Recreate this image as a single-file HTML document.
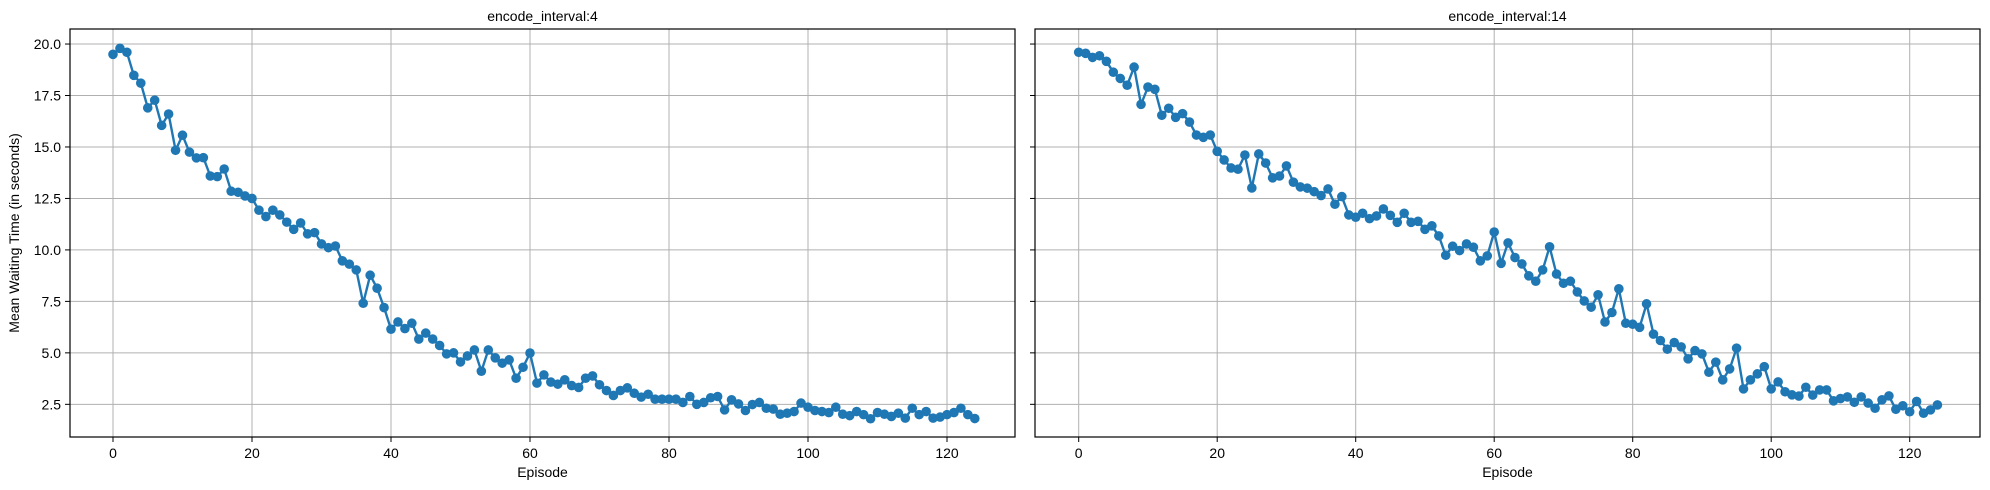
<!DOCTYPE html>
<html><head><meta charset="utf-8"><style>
body{margin:0;background:#fff;}
svg{display:block;font-family:"Liberation Sans","DejaVu Sans",sans-serif;}
</style></head><body>
<svg id="chart" width="1990" height="490" viewBox="0 0 1990 490"></svg>
<script>
const episodes = Array.from({length:125},(_,i)=>i);
const seriesInterval4 = [19.5,19.79,19.6,18.48,18.1,16.9,17.27,16.05,16.6,14.84,15.57,14.75,14.47,14.48,13.59,13.56,13.93,12.85,12.8,12.62,12.5,11.93,11.62,11.93,11.7,11.35,11.0,11.31,10.78,10.84,10.29,10.11,10.19,9.47,9.31,9.03,7.41,8.77,8.14,7.2,6.15,6.5,6.18,6.44,5.67,5.96,5.67,5.36,4.95,5.0,4.56,4.85,5.14,4.11,5.14,4.76,4.5,4.66,3.77,4.3,4.99,3.53,3.93,3.58,3.48,3.69,3.41,3.32,3.77,3.88,3.45,3.17,2.93,3.17,3.3,3.04,2.85,2.99,2.75,2.75,2.75,2.75,2.59,2.88,2.5,2.59,2.82,2.88,2.23,2.72,2.52,2.2,2.49,2.59,2.31,2.27,2.02,2.07,2.15,2.56,2.36,2.2,2.15,2.1,2.36,2.02,1.95,2.15,2.0,1.8,2.1,2.02,1.91,2.07,1.83,2.31,2.0,2.15,1.83,1.88,2.0,2.1,2.31,2.0,1.81];
const seriesInterval14 = [19.6,19.55,19.35,19.43,19.16,18.63,18.33,18.0,18.88,17.07,17.91,17.8,16.54,16.88,16.44,16.62,16.21,15.58,15.47,15.58,14.79,14.37,13.98,13.92,14.61,13.01,14.66,14.22,13.5,13.59,14.08,13.29,13.06,13.0,12.83,12.64,12.96,12.22,12.59,11.7,11.59,11.78,11.52,11.65,11.99,11.68,11.34,11.78,11.34,11.39,11.0,11.17,10.68,9.74,10.18,9.97,10.29,10.13,9.47,9.71,10.87,9.35,10.34,9.63,9.32,8.74,8.48,9.03,10.15,8.83,8.38,8.48,7.96,7.52,7.22,7.82,6.5,6.96,8.11,6.44,6.39,6.24,7.38,5.91,5.6,5.18,5.5,5.29,4.71,5.11,4.95,4.06,4.55,3.69,4.22,5.23,3.25,3.69,3.98,4.33,3.25,3.59,3.11,2.96,2.9,3.33,2.95,3.2,3.2,2.67,2.78,2.86,2.6,2.86,2.56,2.31,2.72,2.91,2.26,2.43,2.14,2.64,2.07,2.23,2.47];
const xTicks = [0,20,40,60,80,100,120];
const yTicks = [2.5,5.0,7.5,10.0,12.5,15.0,17.5,20.0];
const panelTitles = ["encode_interval:4","encode_interval:14"];

const NS="http://www.w3.org/2000/svg";
const svg=document.getElementById('chart');
function mk(tag,attrs,parent){const e=document.createElementNS(NS,tag);for(const k in attrs)e.setAttribute(k,attrs[k]);(parent||svg).appendChild(e);return e;}

const yMin=0.913, yMax=20.73, plotTop=29, plotBottom=437;
function yScale(v){return plotBottom-(v-yMin)/(yMax-yMin)*(plotBottom-plotTop);}

const panels=[{left:70,right:1015,x0:113,step:6.95,data:seriesInterval4,showY:true},
              {left:1035,right:1980,x0:1078.7,step:6.925,data:seriesInterval14,showY:false}];

panels.forEach((p,pi)=>{
  const g=mk('g',{});
  
  
  const xScale=v=>p.x0+v*p.step;
  xTicks.forEach(t=>{
    const x=xScale(t);
    const l=mk('line',{x1:x,x2:x,y1:plotTop,y2:plotBottom,stroke:'#b0b0b0','stroke-width':1},g);
    
    
    mk('line',{x1:x,x2:x,y1:plotBottom,y2:plotBottom+5,stroke:'#000','stroke-width':1},g);
    const tx=mk('text',{x:x,y:plotBottom+21,'font-size':14,'text-anchor':'middle',fill:'#000'},g);
    tx.textContent=t;
    
    
  });
  yTicks.forEach(t=>{
    const y=yScale(t);
    const l=mk('line',{x1:p.left,x2:p.right,y1:y,y2:y,stroke:'#b0b0b0','stroke-width':1},g);
    
    
    mk('line',{x1:p.left-5,x2:p.left,y1:y,y2:y,stroke:'#000','stroke-width':1},g);
    if(p.showY){
      const tx=mk('text',{x:p.left-9,y:y+5,'font-size':14,'text-anchor':'end',fill:'#000'},g);
      tx.textContent=t.toFixed(1);
      
      
    }
  });
  const pts=p.data.map((v,i)=>xScale(episodes[i]).toFixed(1)+','+yScale(v).toFixed(1)).join(' ');
  const line=mk('polyline',{points:pts,fill:'none',stroke:'#1f77b4','stroke-width':2.4,'stroke-linejoin':'round'},g);
  
  
  p.data.forEach((v,i)=>{
    const c=mk('circle',{cx:xScale(episodes[i]),cy:yScale(v),r:4.8,fill:'#1f77b4'},g);
    
    
  });
  const f=mk('rect',{x:p.left,y:plotTop,width:p.right-p.left,height:plotBottom-plotTop,fill:'none',stroke:'#000','stroke-width':1.2},g);
  
  
  const ti=mk('text',{x:(p.left+p.right)/2,y:21,'font-size':14,'text-anchor':'middle',fill:'#000'},g);
  ti.textContent=panelTitles[pi];
  
  
  const xl=mk('text',{x:(p.left+p.right)/2,y:477,'font-size':14,'text-anchor':'middle',fill:'#000'},g);
  xl.textContent='Episode';
  
  
});
const yl=mk('text',{x:0,y:0,'font-size':14,'text-anchor':'middle',fill:'#000',transform:'translate(19,233) rotate(-90)'});
yl.textContent='Mean Waiting Time (in seconds)';


</script>
</body></html>
